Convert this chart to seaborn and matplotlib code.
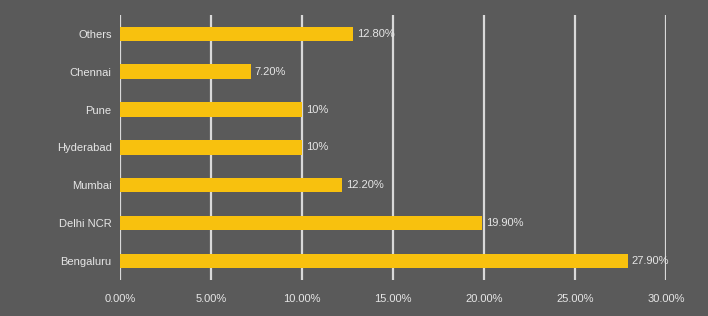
import matplotlib
matplotlib.use('Agg')
import matplotlib.pyplot as plt
import seaborn as sns
import pandas as pd

# 도시별 비율 데이터
cities = ['Others', 'Chennai', 'Pune', 'Hyderabad', 'Mumbai', 'Delhi NCR', 'Bengaluru']
shares = [12.8, 7.2, 10.0, 10.0, 12.2, 19.9, 27.9]
value_labels = ['12.80%', '7.20%', '10%', '10%', '12.20%', '19.90%', '27.90%']
x_ticks = [0, 5, 10, 15, 20, 25, 30]
x_tick_labels = ['0.00%', '5.00%', '10.00%', '15.00%', '20.00%', '25.00%', '30.00%']

df = pd.DataFrame({'city': cities, 'share': shares})

sns.set_style('dark')
plt.rcParams['font.family'] = ['Liberation Sans', 'DejaVu Sans']

bg = '#5a5a5a'
fig = plt.figure(figsize=(7.08, 3.16), dpi=100, facecolor=bg)
ax = fig.add_axes([0.1695, 0.114, 0.7712, 0.839])
ax.set_facecolor(bg)

sns.barplot(data=df, x='share', y='city', order=cities, color='#F8C10E',
            width=0.38, saturation=1, linewidth=0, ax=ax, zorder=3)

# 값 라벨
for i, (v, lab) in enumerate(zip(shares, value_labels)):
    ax.text(v + 0.2, i, lab, va='center', ha='left', color='#e6e6e6',
            fontsize=8, clip_on=False, zorder=4)

ax.set_xlim(0, 30)
ax.set_xticks(x_ticks)
ax.set_xticklabels(x_tick_labels, color='#e6e6e6', fontsize=8)
ax.tick_params(axis='y', colors='#e6e6e6', labelsize=8, length=0, pad=6)
ax.tick_params(axis='x', length=0, pad=10)
ax.set_xlabel('')
ax.set_ylabel('')

ax.grid(False)
for t in x_ticks:
    ax.axvline(t, color='#d9d9d9', linewidth=1.6, zorder=1)
for s in ax.spines.values():
    s.set_visible(False)

plt.savefig('out.png', dpi=100, facecolor=bg)
